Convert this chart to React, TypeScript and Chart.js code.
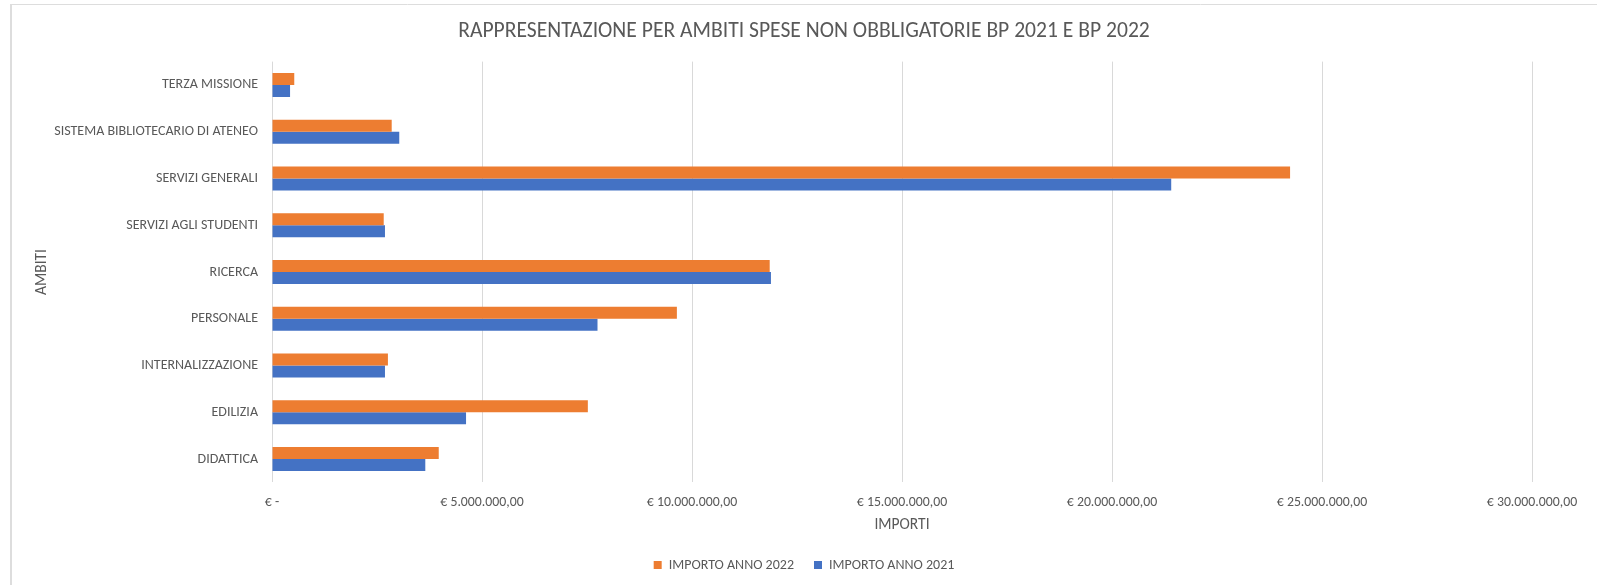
import React, { useEffect, useRef } from "react";
import { Chart, registerables } from "chart.js";
Chart.register(...registerables);

const TITLE = "RAPPRESENTAZIONE PER AMBITI SPESE NON OBBLIGATORIE BP 2021 E BP 2022";
const categories = [
  "TERZA MISSIONE",
  "SISTEMA BIBLIOTECARIO DI ATENEO",
  "SERVIZI GENERALI",
  "SERVIZI AGLI STUDENTI",
  "RICERCA",
  "PERSONALE",
  "INTERNALIZZAZIONE",
  "EDILIZIA",
  "DIDATTICA",
];
const importo2022 = [530000, 2850000, 24240000, 2660000, 11850000, 9640000, 2760000, 7520000, 3970000];
const importo2021 = [430000, 3030000, 21410000, 2690000, 11880000, 7750000, 2690000, 4620000, 3650000];
const seriesNames = ["IMPORTO ANNO 2022", "IMPORTO ANNO 2021"];
const tickValues = [0, 5000000, 10000000, 15000000, 20000000, 25000000, 30000000];
const tickLabels = [
  "€ -",
  "€ 5.000.000,00",
  "€ 10.000.000,00",
  "€ 15.000.000,00",
  "€ 20.000.000,00",
  "€ 25.000.000,00",
  "€ 30.000.000,00",
];
const xTitle = "IMPORTI";
const yTitle = "AMBITI";

const FONT = "Carlito, Calibri, Lato, sans-serif";
const TEXT = "#595959";

export default function App() {
  const ref = useRef<HTMLCanvasElement>(null);
  useEffect(() => {
    const borderPlugin = {
      id: "frame",
      beforeDraw(chart: any) {
        const ctx = chart.ctx;
        ctx.save();
        ctx.strokeStyle = "#DDDDDD";
        ctx.lineWidth = 1;
        ctx.beginPath();
        ctx.moveTo(11, 4.5);
        ctx.lineTo(1597, 4.5);
        ctx.stroke();
        ctx.lineWidth = 2;
        ctx.beginPath();
        ctx.moveTo(11, 4);
        ctx.lineTo(11, 585);
        ctx.stroke();
        ctx.restore();
      },
    };
    const chart = new Chart(ref.current!, {
      type: "bar",
      data: {
        labels: categories,
        datasets: [
          { label: seriesNames[0], data: importo2022, backgroundColor: "#ED7D31", borderWidth: 0 },
          { label: seriesNames[1], data: importo2021, backgroundColor: "#4472C4", borderWidth: 0 },
        ],
      },
      options: {
        indexAxis: "y",
        responsive: false,
        animation: false,
        datasets: { bar: { categoryPercentage: 0.513, barPercentage: 1 } },
        layout: { padding: { left: 11, right: 0, top: 0, bottom: 3 } },
        plugins: {
          title: {
            display: true,
            text: TITLE,
            color: TEXT,
            font: { family: FONT, size: 21.6, weight: "normal", lineHeight: 1.2 },
            padding: { top: 18.5, bottom: 17.2 },
          },
          legend: {
            position: "bottom",
            labels: {
              color: TEXT,
              font: { family: FONT, size: 14 },
              boxWidth: 8,
              boxHeight: 8,
              padding: 20,
            },
          },
          tooltip: { enabled: false },
        },
        scales: {
          x: {
            type: "linear",
            min: 0,
            max: 30000000,
            afterBuildTicks: (s: any) => {
              s.ticks = tickValues.map((v) => ({ value: v }));
            },
            afterFit: (s: any) => {
              s.height = 55.6;
            },
            ticks: {
              color: TEXT,
              font: { family: FONT, size: 13.8 },
              padding: 11.7,
              maxRotation: 0,
              autoSkip: false,
              callback: (v: any) => tickLabels[tickValues.indexOf(Number(v))] ?? "",
            },
            grid: { color: "#D9D9D9", lineWidth: 1, drawTicks: false },
            border: { display: false },
            title: {
              display: true,
              text: xTitle,
              color: TEXT,
              font: { family: FONT, size: 15.5 },
              padding: { top: 4, bottom: 3.2 },
            },
          },
          y: {
            afterFit: (s: any) => {
              s.width = 261;
            },
            ticks: { color: TEXT, font: { family: FONT, size: 14 }, padding: 14, autoSkip: false },
            grid: { display: false, drawTicks: false },
            border: { display: false },
            title: {
              display: true,
              text: yTitle,
              color: TEXT,
              font: { family: FONT, size: 15.5 },
              padding: { top: 21.7, bottom: 0 },
            },
          },
          yRight: {
            type: "linear",
            axis: "y",
            position: "right",
            display: true,
            ticks: { display: false },
            grid: { display: false, drawTicks: false },
            border: { display: false },
            afterFit: (s: any) => {
              s.width = 65;
            },
          },
        },
      },
      plugins: [borderPlugin],
    } as any);
    return () => chart.destroy();
  }, []);
  return (
    <div style={{ position: "absolute", left: 0, top: 0, width: 1597, height: 585, background: "#fff" }}>
      <canvas ref={ref} width={1597} height={585} style={{ display: "block" }} />
    </div>
  );
}
